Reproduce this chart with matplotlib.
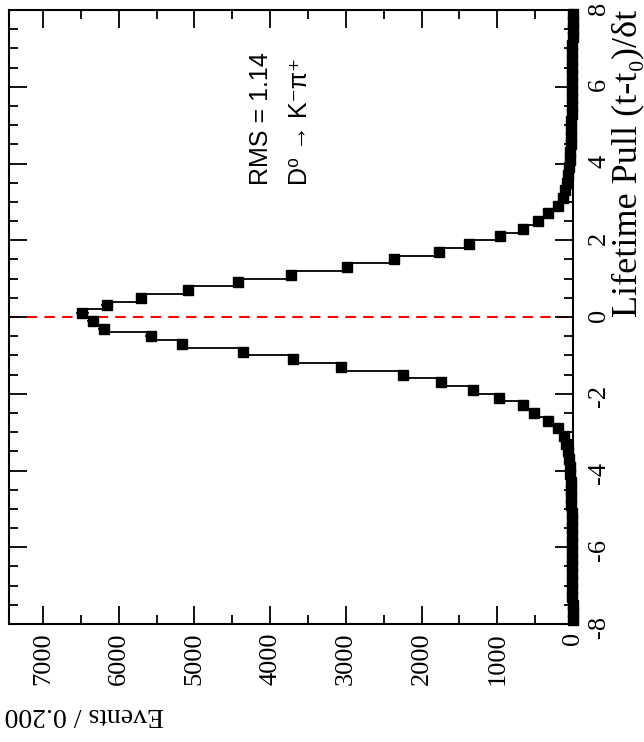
import numpy as np
import matplotlib
matplotlib.use('Agg')
import matplotlib.pyplot as plt
from matplotlib.ticker import MultipleLocator

plt.rcParams['axes.unicode_minus'] = False
plt.rcParams['font.family'] = ['Liberation Serif', 'DejaVu Serif']

# lifetime pull histogram, bins of 0.2 from -8 to 8
bin_edges = np.round(np.arange(-8.0, 8.01, 0.2), 2)
events = [4, 6, 3, 8, 7, 9, 8, 10, 11, 10,
          13, 14, 15, 17, 19, 21, 24, 27, 31, 36,
          44, 58, 72, 90, 119, 198, 331, 516, 660, 980,
          1320, 1740, 2250, 3070, 3700, 4365, 5160, 5580, 6200, 6340,
          6480, 6150, 5700, 5080, 4430, 3720, 2980, 2370, 1770, 1380,
          960, 665, 463, 331, 200, 135, 100, 78, 60, 48,
          40, 34, 29, 25, 22, 20, 18, 15, 14, 12,
          11, 10, 9, 9, 8, 7, 6, 6, 5, 5]
rms_text = 'RMS = 1.14'
decay_text = 'D⁰ → K⁻π⁺'

events = np.array(events, dtype=float)
centers = 0.5 * (bin_edges[:-1] + bin_edges[1:])

W, H = 644, 742
fig = plt.figure(figsize=(W / 100, H / 100), dpi=100)
ax = fig.add_axes([9 / W, 1 - 624 / H, 564 / W, 614 / H])

# the picture is rotated: pull runs up the page, events run to the left
ax.axhline(0, color='red', ls=(0, (5, 3.5)), lw=1.5, zorder=1)
ax.stairs(events, bin_edges, orientation='horizontal', baseline=None,
          color='black', lw=1.3, zorder=2)
ax.errorbar(events, centers, xerr=np.sqrt(events), fmt='s', color='black',
            ms=7, elinewidth=1.2, capsize=0, clip_on=False, zorder=3)

ax.set_xlim(7450, 0)
ax.set_ylim(-8, 8)
ax.xaxis.set_major_locator(MultipleLocator(1000))
ax.xaxis.set_minor_locator(MultipleLocator(500))
ax.yaxis.set_major_locator(MultipleLocator(2))
ax.yaxis.set_minor_locator(MultipleLocator(0.5))
ax.yaxis.tick_right()
ax.tick_params(axis='both', which='both', direction='in', top=True, bottom=True,
               left=True, right=True, width=1.3)
ax.tick_params(which='major', length=13)
ax.tick_params(which='minor', length=6.5)
ax.tick_params(axis='y', labelleft=False, labelright=True, labelrotation=90,
               labelsize=19, pad=11)
ax.tick_params(axis='x', labelrotation=90, labelsize=19, pad=6)
for s in ax.spines.values():
    s.set_linewidth(1.5)

fig.text(5 / W, 1 - 715 / H, 'Events / 0.200', rotation=180, ha='left',
         va='center', fontsize=20)
fig.text(628 / W, 1 - 10 / H, 'Lifetime Pull (t-t₀)/δt', rotation=90,
         ha='center', va='top', fontsize=26)
fig.text(261 / W, 1 - 185 / H, rms_text, rotation=90, ha='center', va='bottom',
         fontsize=18, family=['Liberation Sans', 'DejaVu Sans'])
fig.text(300 / W, 1 - 185 / H, decay_text, rotation=90, ha='center', va='bottom',
         fontsize=18, family=['Liberation Sans', 'DejaVu Sans'])

fig.savefig('out.png', dpi=100)
